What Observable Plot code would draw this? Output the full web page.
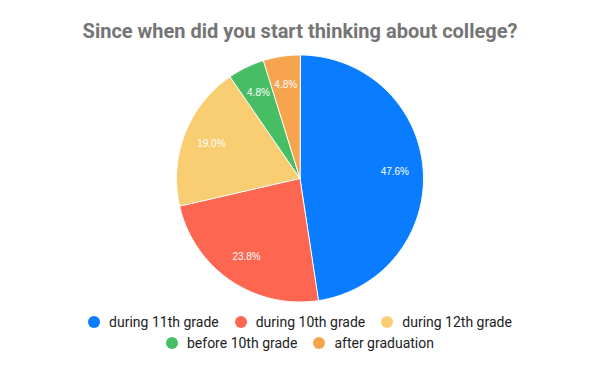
<!DOCTYPE html>
<html>
<head>
<meta charset="utf-8">
<script src="https://cdn.jsdelivr.net/npm/d3@7"></script>
<script src="https://cdn.jsdelivr.net/npm/@observablehq/plot@0.6"></script>
<style>
  html, body { margin: 0; padding: 0; background: #fff; }
  body { width: 600px; height: 371px; overflow: hidden; }
  #title { box-sizing: border-box; height: 45px; padding-top: 19px; text-align: center;
    font-family: Roboto, sans-serif; font-weight: bold; font-size: 20px; line-height: 24px; color: #757575; }
  #chart svg { display: block; }
  #legend { box-sizing: border-box; padding-top: 1.5px; width: 480px; margin: 0 auto;
    display: flex; flex-wrap: wrap; justify-content: center;
    font-family: Roboto, sans-serif; font-size: 14px; line-height: 21px; color: #222; }
  .item { display: flex; align-items: center; margin: 0 8px; white-space: nowrap; }
  .sw { width: 12px; height: 12px; border-radius: 50%; margin-right: 9px; }
</style>
</head>
<body>
<div id="title"></div>
<div id="chart"></div>
<div id="legend"></div>
<script>
const title = "Since when did you start thinking about college?";
const categories = ["during 11th grade", "during 10th grade", "during 12th grade", "before 10th grade", "after graduation"];
const values = [47.6, 23.8, 19.0, 4.8, 4.8];
const colors = ["#0a7cff", "#fd6650", "#f9cd71", "#47bd64", "#f7a44e"];

document.getElementById("title").textContent = title;

const data = categories.map((c, i) => ({category: c, value: values[i]}));
const arcs = d3.pie().sort(null).value(d => d.value)(data);

// polygon points of each slice (unit radius, angle 0 at top, clockwise)
const pts = [];
for (const a of arcs) {
  const c = a.data.category;
  pts.push({category: c, x: 0, y: 0});
  const n = Math.max(2, Math.ceil((a.endAngle - a.startAngle) / (Math.PI / 180)));
  for (let k = 0; k <= n; k++) {
    const t = a.startAngle + (a.endAngle - a.startAngle) * k / n;
    pts.push({category: c, x: Math.sin(t), y: Math.cos(t)});
  }
}
const labels = arcs.map(a => {
  const m = (a.startAngle + a.endAngle) / 2;
  return {x: 0.77 * Math.sin(m), y: 0.77 * Math.cos(m), text: a.data.value.toFixed(1) + "%"};
});

const cx = 299.5, cy = 133, r = 123.5;
const plot = Plot.plot({
  width: 600,
  height: 265,
  margin: 0,
  style: {background: "transparent"},
  x: {domain: [-1, 1], range: [cx - r, cx + r], axis: null},
  y: {domain: [-1, 1], range: [cy + r, cy - r], axis: null},
  color: {domain: categories, range: colors},
  marks: [
    Plot.line(pts, {x: "x", y: "y", z: "category", fill: "category", stroke: "white", strokeWidth: 1,
      strokeLinejoin: "round", curve: "linear-closed"}),
    Plot.text(labels, {x: "x", y: "y", text: "text", fill: "white", fontSize: 10,
      fontFamily: "Liberation Sans, Arial, sans-serif"})
  ]
});
document.getElementById("chart").appendChild(plot);

const legend = document.getElementById("legend");
categories.forEach((c, i) => {
  const it = document.createElement("div");
  it.className = "item";
  const sw = document.createElement("span");
  sw.className = "sw";
  sw.style.background = colors[i];
  const tx = document.createElement("span");
  tx.textContent = c;
  it.appendChild(sw); it.appendChild(tx);
  legend.appendChild(it);
});
</script>
</body>
</html>
